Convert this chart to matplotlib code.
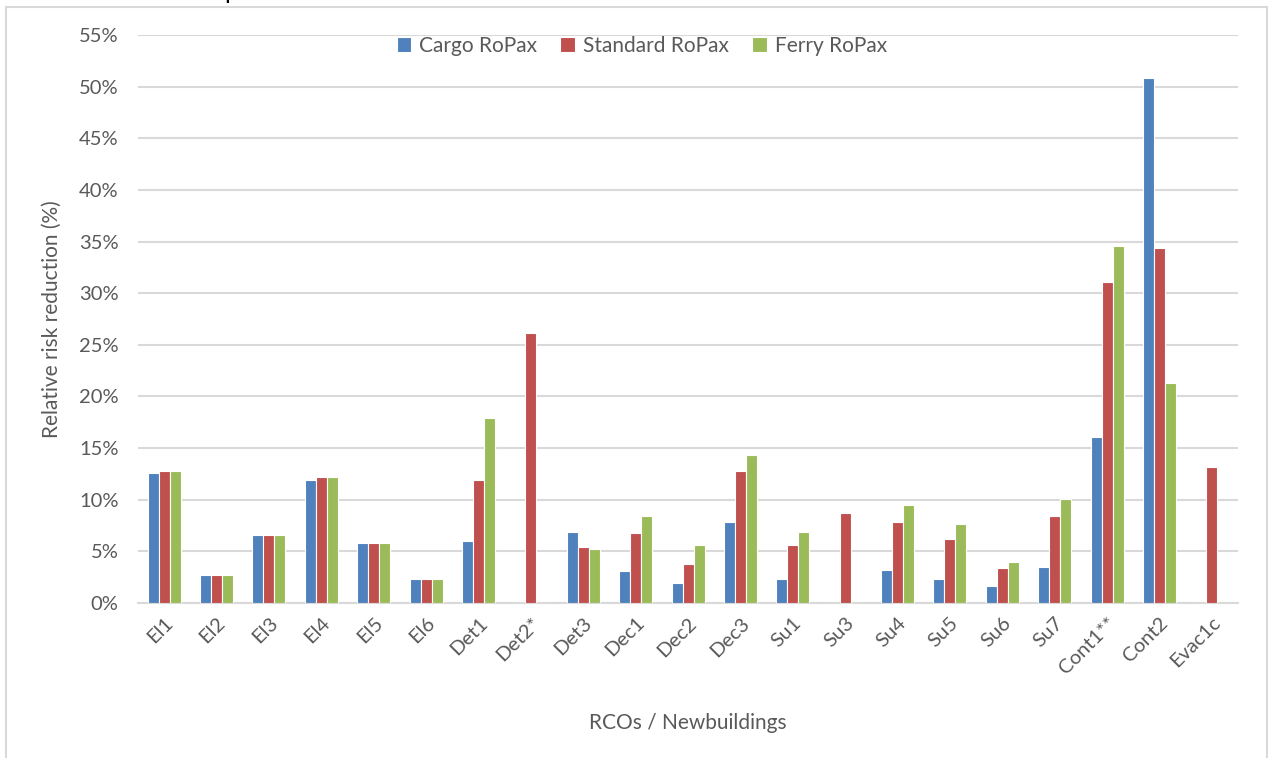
import matplotlib.pyplot as plt
import matplotlib.patches as mpatches
import numpy as np

categories = ["El1", "El2", "El3", "El4", "El5", "El6", "Det1", "Det2*", "Det3",
              "Dec1", "Dec2", "Dec3", "Su1", "Su3", "Su4", "Su5", "Su6", "Su7",
              "Cont1**", "Cont2", "Evac1c"]
cargo = [12.6, 2.7, 6.6, 11.9, 5.8, 2.3, 6.0, 0, 6.9,
         3.1, 1.9, 7.8, 2.3, 0, 3.2, 2.3, 1.6, 3.5,
         16.1, 50.8, 0]
standard = [12.8, 2.7, 6.6, 12.2, 5.8, 2.3, 11.9, 26.1, 5.4,
            6.75, 3.8, 12.8, 5.6, 8.75, 7.8, 6.2, 3.4, 8.4,
            31.1, 34.4, 13.2]
ferry = [12.8, 2.7, 6.6, 12.2, 5.8, 2.3, 17.9, 0, 5.2,
         8.4, 5.6, 14.3, 6.9, 0, 9.5, 7.65, 4.0, 10.05,
         34.6, 21.3, 0]
series_names = ["Cargo RoPax", "Standard RoPax", "Ferry RoPax"]
colors = ["#4F81BD", "#C0504D", "#9BBB59"]

plt.rcParams['font.family'] = ['Lato', 'DejaVu Sans']
text_color = "#595959"

fig = plt.figure(figsize=(12.7, 7.58), dpi=100)
ax = fig.add_axes([138 / 1270, 1 - 603 / 758, 1100 / 1270, 568 / 758])

# outer chart frame
fig.patches.append(mpatches.Rectangle((6 / 1270, -0.01), 1261 / 1270, 1 - 7 / 758 + 0.01,
                                      transform=fig.transFigure, fill=False,
                                      edgecolor="#d9d9d9", linewidth=1.5))
# cut-off title descender at the top edge
fig.text(224 / 1270, 1 + 1 / 758, "p", fontsize=18, color="black", va="baseline")

x = np.arange(len(categories))
w = 0.21
for i, (vals, name, c) in enumerate(zip([cargo, standard, ferry], series_names, colors)):
    vals = np.array(vals) / 100
    ax.bar(x + (i - 1) * w, vals, width=w, color=c, edgecolor="white",
           linewidth=0.8, label=name, zorder=3)

ax.set_xlim(-0.5, len(categories) - 0.5)
ax.set_ylim(0, 0.55)
ax.set_yticks(np.arange(0, 0.551, 0.05))
ax.yaxis.set_major_formatter(plt.FuncFormatter(lambda v, _: f"{v * 100:.0f}%"))
ax.grid(axis="y", color="#d9d9d9", linewidth=1.5, zorder=0)
for s in ["top", "right", "left"]:
    ax.spines[s].set_visible(False)
ax.spines["bottom"].set_color("#d9d9d9")
ax.spines["bottom"].set_linewidth(1.5)
ax.tick_params(axis="both", length=0, colors=text_color, labelsize=14.5)
ax.tick_params(axis="y", pad=14)
ax.set_xticks(x)
ax.set_xticklabels(categories, rotation=45, ha="right", rotation_mode="anchor")
ax.tick_params(axis="x", pad=8)

ax.set_ylabel("Relative risk reduction (%)", fontsize=15, color=text_color, labelpad=12)
ax.set_xlabel("RCOs / Newbuildings", fontsize=15, color=text_color, labelpad=26)

ax.legend(loc="upper center", bbox_to_anchor=(0.458, 1.032), ncol=3, frameon=False,
          fontsize=15, labelcolor=text_color, handlelength=0.7, handleheight=0.7,
          handletextpad=0.4, columnspacing=1.1)

fig.savefig("out.png", dpi=100)
